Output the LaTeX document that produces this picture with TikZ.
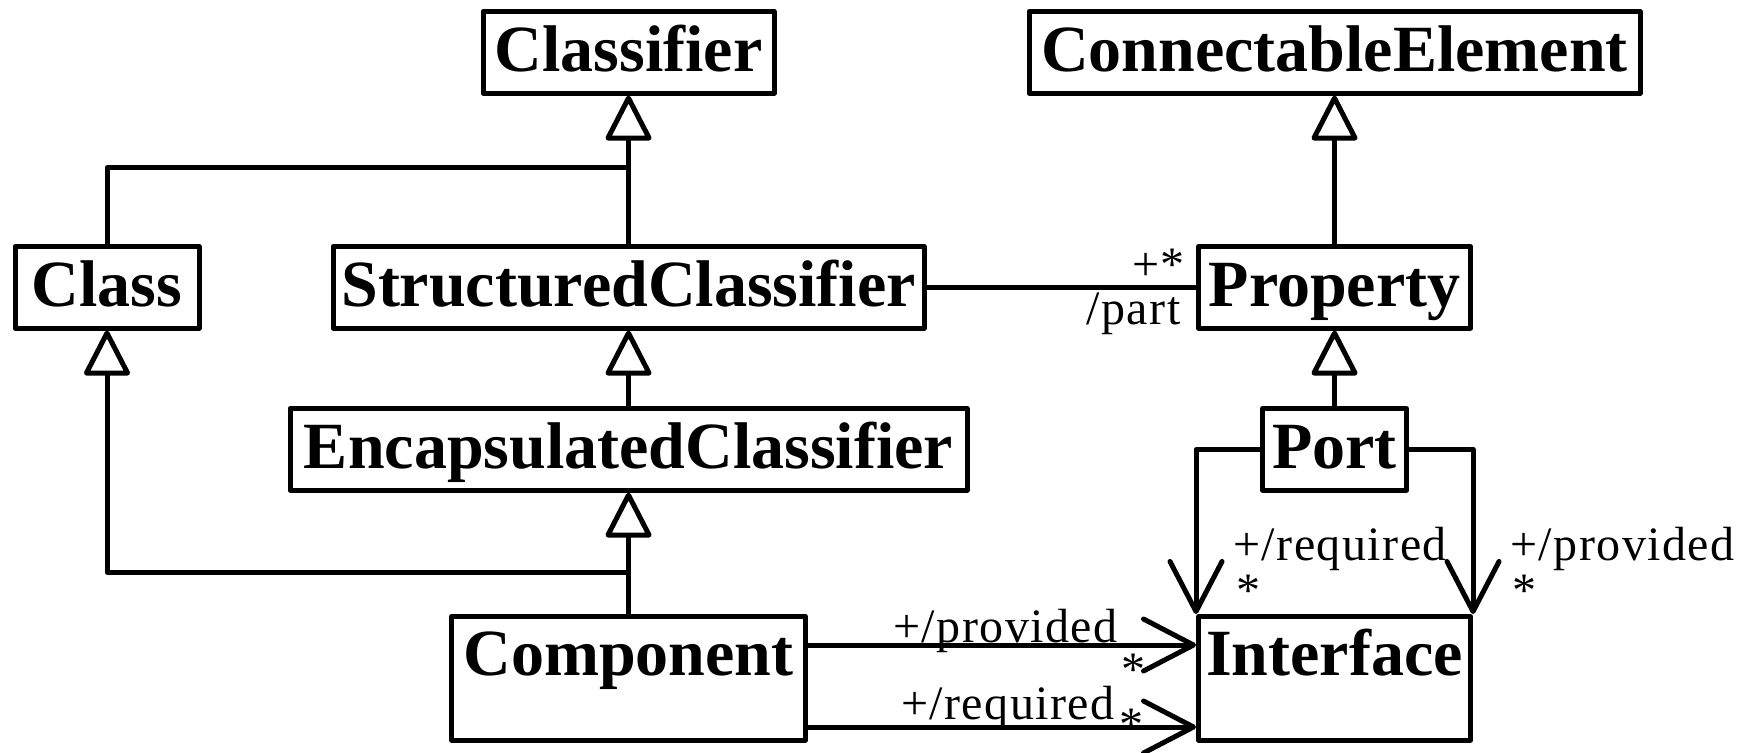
\documentclass[tikz,border=0pt]{standalone}
\usepackage{fontspec}
\setmainfont{Liberation Serif}
\usetikzlibrary{arrows.meta}
\begin{document}
\begin{tikzpicture}[x=0.5pt,y=-0.5pt,
  line width=2.5pt, line join=round,
  cls/.style={draw, rectangle, inner sep=0pt, anchor=north,
    font=\fontsize{33}{36}\selectfont\bfseries,
    text height=29.9pt, text depth=10.9pt},
  big/.style={cls, text height=29.4pt, text depth=32.4pt},
  lbl/.style={inner sep=0pt, font=\fontsize{24}{26}\selectfont\addfontfeature{LetterSpace=3}},
  gen/.style={-{Triangle[open, length=24pt, width=24pt, round]}},
  assoc/.style={-{Straight Barb[length=25pt, width=26pt, round]}}
]
\useasboundingbox (0,0) rectangle (1748,753);

% classes
\node[cls, minimum width=145.5pt] (cf) at (628.5,9) {Classifier};
\node[cls, minimum width=305.5pt] (ce) at (1334.5,9) {ConnectableElement};
\node[cls, minimum width=92pt] (cl) at (107,244) {Class};
\node[cls, minimum width=295.5pt] (sc) at (628.5,244) {StructuredClassifier};
\node[cls, minimum width=136pt] (pr) at (1334.5,244) {Property};
\node[cls, minimum width=338.5pt] (ec) at (628.5,406) {EncapsulatedClassifier};
\node[cls, minimum width=72pt] (po) at (1334.5,406) {Port};
\node[big, minimum width=177pt] (co) at (628.5,614) {Component};
\node[big, minimum width=136pt] (in) at (1334.5,614) {Interface};

% helper coordinates
\coordinate (y1) at (0,168);
\coordinate (y2) at (0,572);
\coordinate (y3) at (0,645);
\coordinate (y4) at (0,727);
\coordinate (j1) at (cf.south |- y1);
\coordinate (j2) at (co.north |- y2);

% generalizations
\draw[gen] (sc.north) -- (cf.south);
\draw (cl.north) |- (j1);
\draw[gen] (ec.north) -- (sc.south);
\draw[gen] (co.north) -- (ec.south);
\draw[gen] (j2) -| (cl.south);
\draw[gen] (pr.north) -- (ce.south);
\draw[gen] (po.north) -- (pr.south);

% association part
\draw (sc.east) -- (pr.west);
\node[lbl, anchor=north east] (l1) at (1187,247) {+*};
\node[lbl, anchor=north east] (l2) at (1183,290) {/part};

% port -> interface
\draw[assoc] (po.west) -| (in.north west);
\draw[assoc] (po.east) -| (in.north east);
\node[lbl, anchor=north west] (l3) at (1231,525) {+/required};
\node[lbl, anchor=north west] (l4) at (1234,573) {*};
\node[lbl, anchor=north west] (l5) at (1508,525) {+/provided};
\node[lbl, anchor=north west] (l6) at (1510,573) {*};

% component -> interface
\draw[assoc] (co.east |- y3) -- (in.west |- y3);
\draw[assoc] (co.east |- y4) -- (in.west |- y4);
\node[lbl, anchor=north east] (l7) at (1120,607) {+/provided};
\node[lbl, anchor=north west] (l8) at (1119,652) {*};
\node[lbl, anchor=north east] (l9) at (1117,684) {+/required};
\node[lbl, anchor=north west] (l10) at (1117,707) {*};
\end{tikzpicture}
\end{document}
